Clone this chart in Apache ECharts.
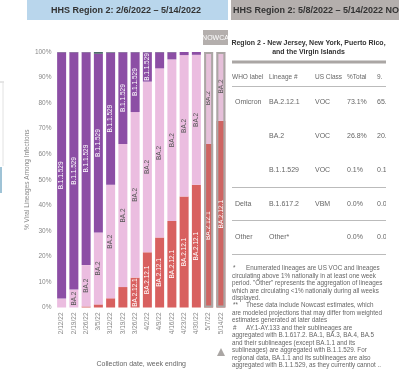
<!DOCTYPE html>
<html>
<head>
<meta charset="utf-8">
<script src="https://cdn.jsdelivr.net/npm/echarts@6/dist/echarts.min.js"></script>
<style>
  html, body { margin: 0; padding: 0; background: #fff; }
  #chart { width: 399px; height: 376px; }
</style>
</head>
<body>
<div id="chart"></div>
<script>
const weeks = ['2/12/22', '2/19/22', '2/26/22', '3/5/22', '3/12/22', '3/19/22', '3/26/22',
  '4/2/22', '4/9/22', '4/16/22', '4/23/22', '4/30/22', '5/7/22', '5/14/22'];
const ba2121 = [0, 0, 0.4, 1.2, 3.6, 8, 11.7, 21.6, 27.4, 33.9, 43.4, 48, 64, 73.1];
const ba2 = [3.5, 7, 16.2, 28.2, 44.4, 56, 64.8, 66.8, 66.2, 63.2, 55.4, 50.9, 35.8, 26.8];
const b11529 = [96.4, 92.9, 83.3, 69.9, 51.8, 35.9, 23.4, 11.5, 6.3, 2.8, 1.2, 1.1, 0.2, 0.1];
const delta = [0.1, 0.1, 0.1, 0.7, 0.2, 0.1, 0.1, 0.1, 0.1, 0.1, 0, 0, 0, 0];
const nowcastWeeks = ['5/7/22', '5/14/22'];

const tableHeader = ['WHO label', 'Lineage #', 'US Class', '%Total', '9.'];
const tableRows = [
  ['Omicron', 'BA.2.12.1', 'VOC', '73.1%', '65.1'],
  ['', 'BA.2', 'VOC', '26.8%', '20.5'],
  ['', 'B.1.1.529', 'VOC', '0.1%', '0.1-'],
  ['Delta', 'B.1.617.2', 'VBM', '0.0%', '0.0-'],
  ['Other', 'Other*', '', '0.0%', '0.0-']
];
const footnotes = [
  ['*', 'Enumerated lineages are US VOC and lineages'],
  ['', 'circulating above 1% nationally in at least one week'],
  ['', 'period. "Other" represents the aggregation of lineages'],
  ['', 'which are circulating <1% nationally during all weeks'],
  ['', 'displayed.'],
  ['**', 'These data include Nowcast estimates, which'],
  ['', 'are modeled projections that may differ from weighted'],
  ['', 'estimates generated at later dates'],
  ['#', 'AY.1-AY.133 and their sublineages are'],
  ['', 'aggregated with B.1.617.2. BA.1, BA.3, BA.4, BA.5'],
  ['', 'and their sublineages (except BA.1.1 and its'],
  ['', 'sublineages) are aggregated with B.1.1.529. For'],
  ['', 'regional data, BA.1.1 and its sublineages are also'],
  ['', 'aggregated with B.1.1.529, as they currently cannot ..']
];

const FONT = '"Liberation Sans", Arial, sans-serif';
const chart = echarts.init(document.getElementById('chart'));

function isNowcast(i) {
  return nowcastWeeks.indexOf(weeks[i]) >= 0;
}

function makeSeries(name, values, color, nowColor, labelColor, minLabel) {
  return {
    name: name,
    type: 'bar',
    stack: 'total',
    barWidth: 9,
    data: values.map((v, i) => ({
      value: v,
      itemStyle: { color: isNowcast(i) ? nowColor : color }
    })),
    label: {
      show: true,
      position: 'inside',
      rotate: 90,
      fontSize: 6.5,
      fontFamily: FONT,
      color: labelColor,
      formatter: (p) => (p.value >= minLabel ? name : '')
    }
  };
}

const graphics = [
  { type: 'rect', shape: { x: 27, y: 0, width: 201, height: 20 }, style: { fill: '#b9d6ec' } },
  { type: 'text', style: { text: 'HHS Region 2: 2/6/2022 \u2013 5/14/2022', x: 126, y: 10.5, align: 'center', verticalAlign: 'middle', font: 'bold 9px ' + FONT, fill: '#333' } },
  { type: 'rect', shape: { x: 231, y: 0, width: 168, height: 20 }, style: { fill: '#b4afad' } },
  { type: 'text', style: { text: 'HHS Region 2: 5/8/2022 \u2013 5/14/2022 NOWCAST', x: 233, y: 10.5, verticalAlign: 'middle', font: 'bold 9px ' + FONT, fill: '#333' } },
  { type: 'rect', shape: { x: 203, y: 30, width: 25, height: 15 }, style: { fill: '#b4afad' } },
  { type: 'text', style: { text: 'NOWCA', x: 215.5, y: 38, align: 'center', verticalAlign: 'middle', font: '7px ' + FONT, fill: '#fff' } },
  { type: 'polygon', shape: { points: [[217, 356], [225, 356], [221, 348]] }, style: { fill: '#aaa6a4' } },
  { type: 'line', shape: { x1: 0, y1: 82, x2: 4, y2: 82 }, style: { stroke: '#ccc', lineWidth: 1 } },
  { type: 'line', shape: { x1: 3, y1: 82, x2: 3, y2: 166 }, style: { stroke: '#e2e2e2', lineWidth: 1 } },
  { type: 'rect', shape: { x: 0, y: 167, width: 2, height: 26 }, style: { fill: '#9fc3d6' } },
  { type: 'text', style: { text: 'Region 2 - New Jersey, New York, Puerto Rico,', x: 308.5, y: 43, align: 'center', verticalAlign: 'middle', font: 'bold 7px ' + FONT, fill: '#333' } },
  { type: 'text', style: { text: 'and the Virgin Islands', x: 308.5, y: 52, align: 'center', verticalAlign: 'middle', font: 'bold 7px ' + FONT, fill: '#333' } },
  { type: 'rect', shape: { x: 232, y: 60.5, width: 154, height: 3 }, style: { fill: '#aaa6a4' } }
];

const colX = [232, 269, 315, 347, 377];
tableHeader.forEach((h, c) => {
  graphics.push({ type: 'text', style: { text: h, x: colX[c], y: 77, verticalAlign: 'middle', font: '6.5px ' + FONT, fill: '#666' } });
});
const rowY = [102, 136.5, 170, 204, 237];
tableRows.forEach((row, r) => {
  row.forEach((cell, c) => {
    graphics.push({ type: 'text', style: { text: cell, x: c === 0 ? 235 : colX[c], y: rowY[r], verticalAlign: 'middle', font: '7px ' + FONT, fill: '#666' } });
  });
});
[86.5, 187.5, 220.5, 254.5].forEach((y) => {
  graphics.push({ type: 'line', shape: { x1: 232, y1: y, x2: 386, y2: y }, style: { stroke: '#bbb', lineWidth: 1 } });
});
graphics.push({ type: 'rect', z: 10, shape: { x: 386, y: 65, width: 13, height: 185 }, style: { fill: '#fff' } });

footnotes.forEach((f, i) => {
  const y = 268.5 + i * 7.45;
  if (f[0]) {
    graphics.push({ type: 'text', style: { text: f[0], x: 233, y: y, verticalAlign: 'middle', font: '6.3px ' + FONT, fill: '#666' } });
  }
  graphics.push({ type: 'text', style: { text: f[1], x: f[0] ? 246 : 232, y: y, verticalAlign: 'middle', font: '6.3px ' + FONT, fill: '#666' } });
});

chart.setOption({
  animation: false,
  grid: { left: 55.5, right: 172, top: 52, bottom: 68.5 },
  xAxis: {
    type: 'category',
    data: weeks,
    axisLine: { show: false },
    axisTick: { show: false },
    axisLabel: { rotate: 90, fontSize: 6.5, fontFamily: FONT, color: '#888', margin: 5, interval: 0 },
    name: 'Collection date, week ending',
    nameLocation: 'middle',
    nameGap: 53,
    nameTextStyle: { fontSize: 7, fontFamily: FONT, color: '#666' }
  },
  yAxis: {
    type: 'value',
    min: 0,
    max: 100,
    interval: 10,
    axisLine: { show: false },
    axisTick: { show: false },
    splitLine: { show: false },
    axisLabel: { formatter: '{value}%', fontSize: 6.5, fontFamily: FONT, color: '#888', margin: 4 },
    name: '% Viral Lineages Among Infections',
    nameLocation: 'middle',
    nameGap: 21,
    nameTextStyle: { fontSize: 6.5, fontFamily: FONT, color: '#888' }
  },
  series: [
    makeSeries('BA.2.12.1', ba2121, '#d8605f', '#cf6462', '#fff', 11),
    makeSeries('BA.2', ba2, '#ebbde0', '#e6c0da', '#555', 6),
    makeSeries('B.1.1.529', b11529, '#8c4ea5', '#8c4ea5', '#fff', 11),
    makeSeries('Delta', delta, '#4d6a68', '#4d6a68', '#fff', 101),
    {
      name: 'Nowcast',
      type: 'bar',
      barWidth: 9,
      barGap: '-100%',
      silent: true,
      data: weeks.map((w, i) => (isNowcast(i) ? 100 : '-')),
      itemStyle: { color: 'rgba(0,0,0,0)', borderColor: '#aba6a4', borderWidth: 2 },
      z: 5
    }
  ],
  graphic: graphics
});
</script>
</body>
</html>
